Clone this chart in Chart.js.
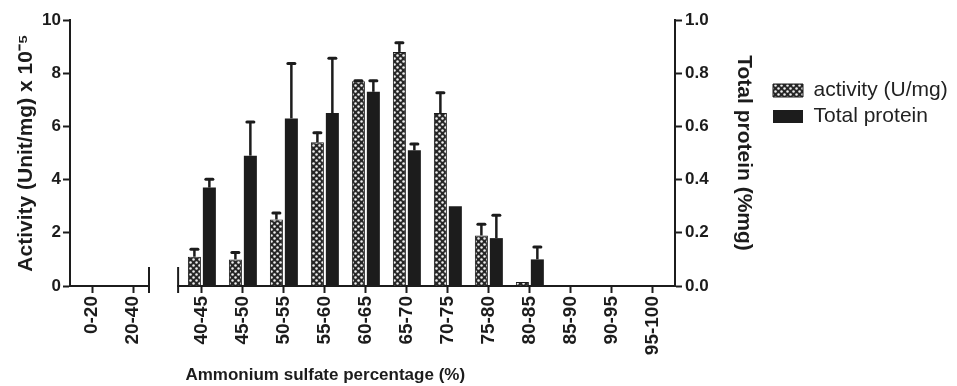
<!DOCTYPE html>
<html>
<head>
<meta charset="utf-8">
<script src="https://cdn.jsdelivr.net/npm/chart.js@4.4.1/dist/chart.umd.min.js"></script>
<style>
  html, body { margin: 0; padding: 0; background: #fff; }
  #wrap { width: 957px; height: 386px; }
</style>
</head>
<body>
<div id="wrap"><canvas id="chart" width="957" height="386"></canvas></div>
<script>
// ammonium sulfate fractions
const categories = ["0-20", "20-40", "40-45", "45-50", "50-55", "55-60", "60-65", "65-70",
                    "70-75", "75-80", "80-85", "85-90", "90-95", "95-100"];
// activity (U/mg) x 10^-5, left axis
const activity    = [0, 0, 1.1, 1.0, 2.5, 5.4, 7.7, 8.8, 6.5, 1.9, 0.15, 0, 0, 0];
const activityErr = [0, 0, 0.32, 0.3, 0.28, 0.4, 0.05, 0.38, 0.8, 0.46, 0, 0, 0, 0];
// total protein (% mg), right axis
const protein     = [0, 0, 0.37, 0.49, 0.63, 0.65, 0.73, 0.51, 0.30, 0.18, 0.10, 0, 0, 0];
const proteinErr  = [0, 0, 0.035, 0.13, 0.21, 0.21, 0.045, 0.028, 0, 0.09, 0.05, 0, 0, 0];
const leftTicks  = [0, 2, 4, 6, 8, 10];
const rightTicks = [0, 0.2, 0.4, 0.6, 0.8, 1.0];

// broken axis: the first two fractions sit apart from the rest
const BREAK_AFTER = 1;
const BREAK_GAP = 0.68;
const xPos = categories.map((c, i) => i + (i > BREAK_AFTER ? BREAK_GAP : 0));

const INK = "#1c1c1c";
const FONT = "'Liberation Sans', Arial, sans-serif";
const PLOT_RIGHT = 675;

function dotPattern() {
  const c = document.createElement("canvas");
  c.width = 6; c.height = 6;
  const g = c.getContext("2d");
  g.fillStyle = "#262626";
  g.fillRect(0, 0, 6, 6);
  g.fillStyle = "#f0f0f0";
  [[1.5, 1.5], [4.5, 4.5]].forEach(([x, y]) => {
    g.beginPath();
    g.arc(x, y, 1.25, 0, Math.PI * 2);
    g.fill();
  });
  return g.createPattern(c, "repeat");
}

const errorBars = {
  id: "errorBars",
  afterDatasetsDraw(chart) {
    const ctx = chart.ctx;
    chart.data.datasets.forEach((ds, di) => {
      const meta = chart.getDatasetMeta(di);
      const yScale = chart.scales[ds.yAxisID];
      meta.data.forEach((bar, i) => {
        const err = ds.errors[i];
        if (!err) return;
        const top = yScale.getPixelForValue(ds.data[i].y + err);
        ctx.save();
        ctx.strokeStyle = INK;
        ctx.lineWidth = 2.5;
        ctx.beginPath();
        ctx.moveTo(bar.x, bar.y);
        ctx.lineTo(bar.x, top);
        ctx.stroke();
        ctx.lineWidth = 3;
        ctx.lineCap = "round";
        ctx.beginPath();
        ctx.moveTo(bar.x - 3.5, top + 1);
        ctx.lineTo(bar.x + 3.5, top + 1);
        ctx.stroke();
        ctx.restore();
      });
    });
  }
};

const axisBreak = {
  id: "axisBreak",
  afterDraw(chart) {
    const x = chart.scales.x;
    const ctx = chart.ctx;
    const a = x.getPixelForValue(xPos[BREAK_AFTER] + 0.39);
    const b = x.getPixelForValue(xPos[BREAK_AFTER + 1] - 0.58);
    const y0 = x.top;
    ctx.save();
    ctx.fillStyle = "#fff";
    ctx.fillRect(a + 1, y0 - 3, b - a - 2, 6);
    ctx.strokeStyle = INK;
    ctx.lineWidth = 2;
    [a, b].forEach(px => {
      ctx.beginPath();
      ctx.moveTo(px, y0 - 19);
      ctx.lineTo(px, y0 + 7);
      ctx.stroke();
    });
    ctx.restore();
  }
};

const pattern = dotPattern();

new Chart(document.getElementById("chart").getContext("2d"), {
  type: "bar",
  data: {
    datasets: [
      {
        label: "activity (U/mg)",
        data: categories.map((c, i) => ({ x: xPos[i], y: activity[i] })),
        errors: activityErr,
        yAxisID: "y",
        backgroundColor: pattern,
        borderColor: INK,
        borderWidth: 1,
        categoryPercentage: 0.73,
        barPercentage: 0.87
      },
      {
        label: "Total protein",
        data: categories.map((c, i) => ({ x: xPos[i], y: protein[i] })),
        errors: proteinErr,
        yAxisID: "y1",
        backgroundColor: INK,
        borderColor: INK,
        borderWidth: 0,
        categoryPercentage: 0.73,
        barPercentage: 0.87
      }
    ]
  },
  options: {
    responsive: false,
    animation: false,
    layout: { padding: { top: 20, right: 0, left: 0, bottom: 0 } },
    plugins: {
      tooltip: { enabled: false },
      legend: {
        position: "right",
        align: "start",
        maxWidth: 189,
        title: { display: true, text: " ", font: { size: 10 }, padding: { top: 43, bottom: 0 } },
        labels: {
          boxWidth: 30,
          boxHeight: 13,
          padding: 5,
          color: "#222",
          font: { family: FONT, size: 21 }
        }
      }
    },
    scales: {
      x: {
        type: "linear",
        offset: false,
        min: -0.537,
        max: 14.22,
        afterBuildTicks: s => { s.ticks = xPos.map(v => ({ value: v })); },
        afterFit: s => { s.height = 100; },
        ticks: {
          autoSkip: false,
          minRotation: 90,
          maxRotation: 90,
          padding: 3,
          color: INK,
          font: { family: FONT, size: 19, weight: "bold" },
          callback: v => categories[xPos.indexOf(v)]
        },
        grid: { display: true, drawOnChartArea: false, offset: false, tickLength: 7, tickWidth: 2, color: INK },
        border: { display: true, color: INK, width: 2 },
        title: {
          display: true,
          // trailing spaces shift the centred title left, as in the original
          text: "Ammonium sulfate percentage (%)" + "\u00A0".repeat(20),
          color: INK,
          padding: { top: 0, bottom: 0 },
          font: { family: FONT, size: 17, weight: "bold" }
        }
      },
      y: {
        position: "left",
        min: 0,
        max: 10,
        afterBuildTicks: s => { s.ticks = leftTicks.map(v => ({ value: v })); },
        afterFit: s => { s.width = 70; },
        ticks: {
          padding: 2,
          color: INK,
          font: { family: FONT, size: 17, weight: "bold" }
        },
        grid: { drawOnChartArea: false, tickLength: 7, tickWidth: 2, color: INK },
        border: { display: true, color: INK, width: 2 },
        title: {
          display: true,
          text: "Activity (Unit/mg) x 10\u207B\u2075",
          color: INK,
          padding: { top: 14, bottom: 0 },
          font: { family: FONT, size: 21, weight: "bold" }
        }
      },
      y1: {
        position: "right",
        min: 0,
        max: 1,
        afterBuildTicks: s => { s.ticks = rightTicks.map(v => ({ value: v })); },
        afterFit: s => { s.width = s.chart.width - s.chart.legend.width - PLOT_RIGHT; },
        ticks: {
          padding: 3,
          color: INK,
          font: { family: FONT, size: 17, weight: "bold" },
          callback: v => v.toFixed(1)
        },
        grid: { drawOnChartArea: false, tickLength: 7, tickWidth: 2, color: INK },
        border: { display: true, color: INK, width: 2 },
        title: {
          display: true,
          text: "Total protein (%mg)",
          color: INK,
          padding: { top: 12, bottom: 0 },
          font: { family: FONT, size: 21, weight: "bold" }
        }
      }
    }
  },
  plugins: [errorBars, axisBreak]
});
</script>
</body>
</html>
